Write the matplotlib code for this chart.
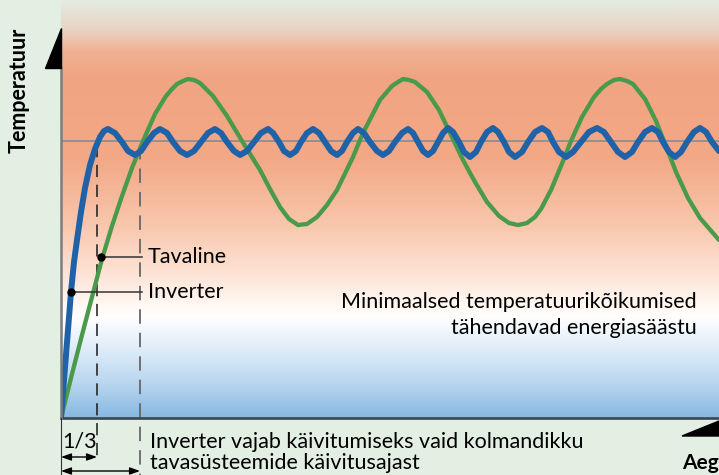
import matplotlib
matplotlib.use("Agg")
import matplotlib.pyplot as plt
import numpy as np
from matplotlib.colors import LinearSegmentedColormap
from matplotlib.patches import Polygon

plt.rcParams['font.family'] = ['Lato', 'DejaVu Sans']

# --- data (time, temperature in arbitrary units) ---
inverter_t = [0, 5, 10, 13, 16, 20, 24, 29, 34, 39, 43, 47,
              54, 61, 67, 74, 80, 86, 93, 99,
              106, 112, 119, 126, 133, 140, 147, 154,
              160, 166, 173, 179, 186, 193, 200, 207,
              212, 218, 223, 229, 235, 240, 246, 252,
              258, 264, 270, 276, 281, 286, 292, 297,
              303, 309, 316, 322, 328, 334, 341, 347,
              352, 357, 362, 367, 372, 377, 382, 387,
              392, 398, 403, 409, 415, 420, 426, 432,
              437, 443, 448, 454, 461, 467, 474, 481,
              487, 492, 498, 505, 512, 520, 528, 536,
              543, 550, 557, 564, 571, 577, 584, 591,
              597, 602, 608, 614, 620, 626, 633, 639,
              645, 651, 658]
inverter_T = [0, 63, 126, 156, 178, 206, 230, 253, 269, 281, 287, 289,
              285, 276, 267, 263, 267, 276, 285, 289,
              285, 276, 267, 263, 267, 276, 285, 289,
              285, 276, 267, 263, 267, 276, 285, 289,
              285, 276, 267, 263, 267, 276, 285, 289,
              285, 276, 267, 263, 267, 276, 285, 289,
              285, 276, 267, 263, 267, 276, 285, 289,
              285, 276, 267, 263, 267, 276, 285, 290,
              286, 276, 266, 261, 266, 276, 286, 290,
              286, 276, 266, 261, 266, 276, 286, 290,
              286, 276, 266, 261, 266, 276, 286, 290,
              286, 276, 266, 261, 266, 276, 286, 290,
              286, 276, 266, 261, 266, 276, 286, 290,
              286, 276, 267]

regular_t = [0, 11, 21, 31, 41, 51, 61, 71, 82, 94, 105, 111, 116, 122, 127,
             133, 139, 152, 166, 181, 199, 209, 219, 228, 237, 246, 256, 266,
             276, 292, 302, 319, 331, 337, 342, 348, 354, 366, 378, 390, 402,
             414, 426, 438, 448, 457, 466, 474, 480, 490, 500, 510, 521, 533,
             540, 546, 553, 559, 566, 572, 584, 595, 605, 615, 627, 639, 658]
regular_T = [0, 44, 83, 121, 159, 192, 222, 250, 277, 304, 322, 329, 334, 337, 339,
             338, 335, 322, 302, 277, 248, 229, 211, 199, 193, 194, 201, 213,
             228, 261, 285, 318, 332, 336, 339, 338, 336, 326, 308, 283, 258,
             236, 216, 202, 195, 193, 195, 201, 209, 228, 252, 277, 301, 321,
             329, 334, 338, 339, 337, 334, 319, 297, 272, 246, 220, 200, 178]

set_point = 277
inverter_start = 36
regular_start = 79
inverter_label_pt = (10, 126)
regular_label_pt = (40, 161)

t_max, T_max = 658, 418

# --- figure ---
fig = plt.figure(figsize=(7.19, 4.75), dpi=100)
fig.patch.set_facecolor('#e3efe3')
ax = fig.add_axes([61 / 719, 57 / 475, 658 / 719, 418 / 475])
ax.set_xlim(0, t_max)
ax.set_ylim(0, T_max)
ax.axis('off')

# background gradient (bottom -> top)
stops = [0.0, 0.08, 0.17, 0.24, 0.29, 0.36, 0.45, 0.62, 0.82, 0.88, 0.93, 1.0]
cols = ['#88b8e2', '#b9d6f0', '#e2eef9', '#ffffff', '#fff2ea', '#fde0d0',
        '#f9c9b0', '#f3a886', '#f1a482', '#efb192', '#e9d3c2', '#e4ebe1']
cmap = LinearSegmentedColormap.from_list('bg', list(zip(stops, cols)))
grad = np.linspace(0, 1, 400).reshape(-1, 1)
ax.imshow(grad, cmap=cmap, origin='lower', aspect='auto',
          extent=(0, t_max, 0, T_max), zorder=0)

# set point line
ax.axhline(set_point, color='#7f8d9b', lw=1.2, zorder=1)

# start-up dashed markers
ax.plot([inverter_start, inverter_start], [273, -43], color='#1a1a1a', lw=1.1,
        dashes=(8, 5), clip_on=False, zorder=2)
ax.plot([regular_start, regular_start], [273, -60], color='#666666', lw=1.3,
        dashes=(8, 5), clip_on=False, zorder=2)

# curves
ax.plot(regular_t, regular_T, color='#4a9a4c', lw=3.1, zorder=3,
        solid_joinstyle='round', solid_capstyle='round')
ax.plot(inverter_t, inverter_T, color='#1f62a8', lw=4.3, zorder=4,
        solid_joinstyle='round', solid_capstyle='round')

# axes lines + arrows
ax.plot([0, t_max], [0, 0], color='#3c4650', lw=1.9, clip_on=False, zorder=5)
ax.plot([0, 0], [0, 350], color='#7d7d7d', lw=1.8, clip_on=False, zorder=5)
ax.plot([0, 0], [0, -60], color='#333333', lw=0.8, clip_on=False, zorder=5)
ax.add_patch(Polygon([(-16, 350), (0, 350), (0, 390)], closed=True,
                     color='black', clip_on=False, zorder=6))
ax.add_patch(Polygon([(621, -18), (658, -3), (658, -18)], closed=True,
                     color='black', clip_on=False, zorder=6))

fs = 15.5

# labels on curves
for (pt, txt) in [(regular_label_pt, 'Tavaline'), (inverter_label_pt, 'Inverter')]:
    ax.plot([pt[0], 81], [pt[1], pt[1]], color='#333333', lw=1.1, zorder=6)
    ax.plot(pt[0], pt[1], 'o', color='black', ms=5, zorder=7)
    ax.text(87, pt[1] - 6, txt, fontsize=fs, ha='left', va='baseline', zorder=7)

ax.text(636, 110, 'Minimaalsed temperatuurikõikumised', fontsize=fs,
        ha='right', va='baseline')
ax.text(636, 84, 'tähendavad energiasäästu', fontsize=fs,
        ha='right', va='baseline')

# bottom dimension arrows
for yy, xe in [(-39, inverter_start), (-53, regular_start)]:
    ax.annotate('', xy=(xe, yy), xytext=(0, yy), annotation_clip=False,
                arrowprops=dict(arrowstyle='<|-|>,head_length=0.5,head_width=0.18',
                                color='black', lw=1.0, shrinkA=0, shrinkB=0,
                                mutation_scale=12))

ax.text(1, -30, '1/3', fontsize=fs, ha='left', va='baseline')
ax.text(89, -30, 'Inverter vajab käivitumiseks vaid kolmandikku', fontsize=fs,
        ha='left', va='baseline')
ax.text(89, -51, 'tavasüsteemide käivitusajast', fontsize=fs,
        ha='left', va='baseline')
ax.text(621, -51, 'Aeg', fontsize=15, fontweight='bold', ha='left', va='baseline')
ax.text(-42, 328, 'Temperatuur', fontsize=15.5, fontweight='bold', rotation=90,
        ha='center', va='center')

fig.savefig('out.png', dpi=100, facecolor=fig.get_facecolor())
